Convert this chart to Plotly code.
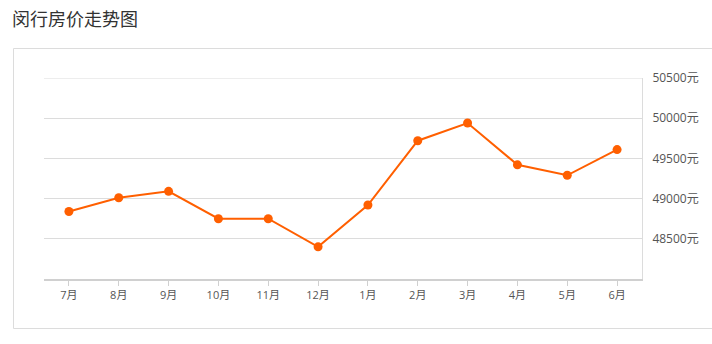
import plotly.graph_objects as go

months = ["7月", "8月", "9月", "10月", "11月", "12月", "1月", "2月", "3月", "4月", "5月", "6月"]
prices = [48840, 49010, 49090, 48750, 48750, 48400, 48920, 49720, 49940, 49420, 49290, 49610]
y_ticks = [48500, 49000, 49500, 50000, 50500]
y_tick_labels = ["48500元", "49000元", "49500元", "50000元", "50500元"]

W, H = 712, 344
L, R, T, B = 44, 70, 78, 65
pw, ph = W - L - R, H - T - B

def px_x(x):
    return (x - L) / pw

def px_y(y):
    return (H - B - y) / ph

fig = go.Figure()
fig.add_trace(go.Scatter(
    x=months, y=prices, mode="lines+markers",
    line=dict(color="#ff5f00", width=2),
    marker=dict(color="#ff5f00", size=9),
    hoverinfo="x+y",
))

fig.update_layout(
    width=W, height=H,
    margin=dict(l=L, r=R, t=T, b=B),
    paper_bgcolor="white", plot_bgcolor="white",
    showlegend=False,
    font=dict(family="Open Sans, Noto Sans CJK SC, sans-serif", size=11, color="#555"),
    title=dict(
        text="闵行房价走势图",
        x=12 / W, xanchor="left", xref="container",
        y=1 - 20 / H, yanchor="middle", yref="container",
        font=dict(family="Noto Sans CJK SC, sans-serif", size=18, color="#333"),
    ),
    xaxis=dict(
        type="category", range=[-0.5, 11.5],
        showgrid=False, showline=True, linecolor="#d0d0d0", linewidth=2,
        ticks="outside", ticklen=5, tickcolor="#d0d0d0", tickwidth=1,
        tickfont=dict(size=11, color="#555"),
        zeroline=False, fixedrange=True,
    ),
    yaxis=dict(
        side="right", range=[48000, 50500],
        tickvals=y_ticks, ticktext=y_tick_labels,
        showgrid=True, gridcolor="#dcdcdc", gridwidth=1,
        showline=True, linecolor="#dcdcdc", linewidth=1,
        ticks="", ticklabelstandoff=7,
        tickfont=dict(size=12, color="#555"),
        zeroline=False, fixedrange=True,
    ),
)

# top gridline at the range edge
fig.add_shape(
    type="line", xref="paper", yref="y",
    x0=0, x1=1, y0=y_ticks[-1], y1=y_ticks[-1],
    line=dict(color="#dcdcdc", width=1), layer="below",
)

# outer card border
fig.add_shape(
    type="rect", xref="paper", yref="paper",
    x0=px_x(13.5), x1=px_x(730), y0=px_y(328.5), y1=px_y(48.5),
    line=dict(color="#dcdcdc", width=1), fillcolor="rgba(0,0,0,0)",
    layer="below",
)

fig.write_html("out.html")
